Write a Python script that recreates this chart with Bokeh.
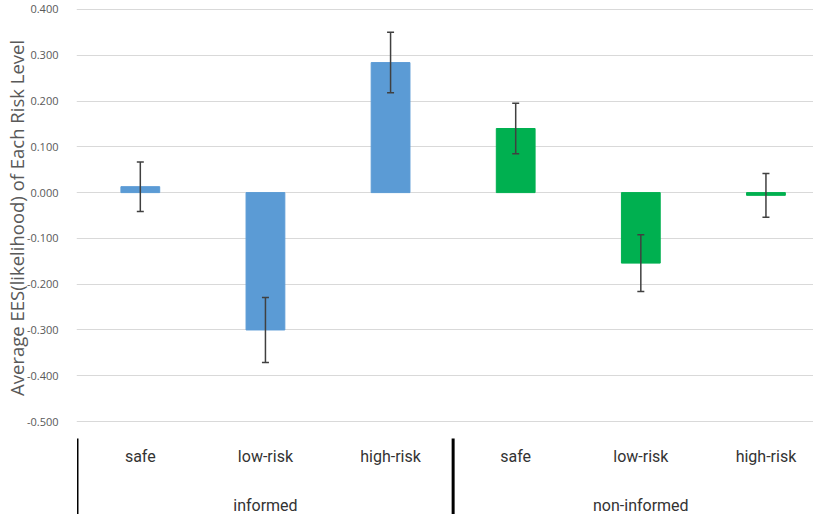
import numpy as np
from bokeh.plotting import figure
from bokeh.layouts import column
from bokeh.models import (ColumnDataSource, Range1d, FixedTicker,
                          NumeralTickFormatter, Whisker, TeeHead)
from bokeh.core.properties import value
from bokeh.embed import file_html
from bokeh.resources import INLINE

# ---- data ----
groups = ["informed", "non-informed"]
levels = ["safe", "low-risk", "high-risk"]
means_informed = [0.013, -0.300, 0.284]
means_noninformed = [0.140, -0.154, -0.006]
err_informed = [0.054, 0.071, 0.066]
err_noninformed = [0.055, 0.062, 0.048]
y_ticks = [-0.5, -0.4, -0.3, -0.2, -0.1, 0.0, 0.1, 0.2, 0.3, 0.4]
y_title = "Average EES(likelihood)  of Each Risk Level"
bar_colors = ["#5B9BD5", "#00B050"]

# category positions on a numeric scale: one unit per category
n_lv = len(levels)
labels = [l for g in groups for l in levels]
group_of = [g for g in groups for l in levels]
pos = np.arange(len(labels)) + 0.5
means = means_informed + means_noninformed
errs = err_informed + err_noninformed
colors = [bar_colors[groups.index(g)] for g in group_of]
src = ColumnDataSource(dict(
    x=pos,
    top=means,
    upper=[m + e for m, e in zip(means, errs)],
    lower=[m - e for m, e in zip(means, errs)],
    color=colors,
))

xr = Range1d(-0.01, len(labels) - 0.12)
FONT = "Open Sans"

# ---- main plot ----
p1 = figure(x_range=xr, y_range=Range1d(-0.5087, 0.4087), width=813, height=433,
            output_backend="svg", toolbar_location=None, x_axis_location=None,
            min_border_left=72, min_border_right=0, min_border_top=5,
            min_border_bottom=8)
p1.outline_line_color = None
p1.xgrid.visible = False
p1.ygrid.grid_line_color = "#D9D9D9"
p1.ygrid.grid_line_width = 1

p1.vbar(x="x", top="top", bottom=0, width=0.31, source=src,
        fill_color="color", line_color="color", line_width=1)

head_u = TeeHead(size=7, line_color="#404040", line_width=1.5)
head_l = TeeHead(size=7, line_color="#404040", line_width=1.5)
p1.add_layout(Whisker(base="x", upper="upper", lower="lower", source=src,
                      line_color="#404040", line_width=1.5, level="overlay",
                      upper_head=head_u, lower_head=head_l))

ya = p1.yaxis[0]
ya.ticker = FixedTicker(ticks=y_ticks)
ya.formatter = NumeralTickFormatter(format="0.000")
ya.axis_line_color = None
ya.major_tick_line_color = None
ya.minor_tick_line_color = None
ya.major_label_standoff = 12
ya.major_label_text_font = FONT
ya.major_label_text_font_size = "11px"
ya.major_label_text_color = "#595959"
ya.axis_label = y_title
ya.axis_label_text_font = FONT
ya.axis_label_text_font_size = "18.5px"
ya.axis_label_text_font_style = "normal"
ya.axis_label_text_color = "#595959"
ya.axis_label_standoff = -5

# ---- category axis area ----
p2 = figure(x_range=xr, y_range=Range1d(81, 0), width=813, height=81,
            output_backend="svg", toolbar_location=None,
            x_axis_location=None, y_axis_location=None,
            min_border_left=72, min_border_right=0, min_border_top=0,
            min_border_bottom=0)
p2.outline_line_color = None
p2.xgrid.visible = False
p2.ygrid.visible = False

p2.text(x=pos, y=[23] * len(labels), text=labels,
        text_align="center", text_baseline="middle",
        text_font=value("Roboto"), text_font_size="16px", text_color="#333333")
group_pos = [float(np.mean(pos[i * n_lv:(i + 1) * n_lv])) for i in range(len(groups))]
p2.text(x=group_pos, y=[72] * len(groups), text=groups,
        text_align="center", text_baseline="middle",
        text_font=value("Roboto"), text_font_size="16px", text_color="#333333")

bounds = [float(i * n_lv) for i in range(len(groups))]
p2.segment(x0=bounds, y0=[5] * len(bounds), x1=bounds, y1=[81] * len(bounds),
           line_color="#000000", line_width=[1.5, 3][:len(bounds)])

layout = column(p1, p2, spacing=0)
open("out.html", "w").write(file_html(layout, INLINE))
